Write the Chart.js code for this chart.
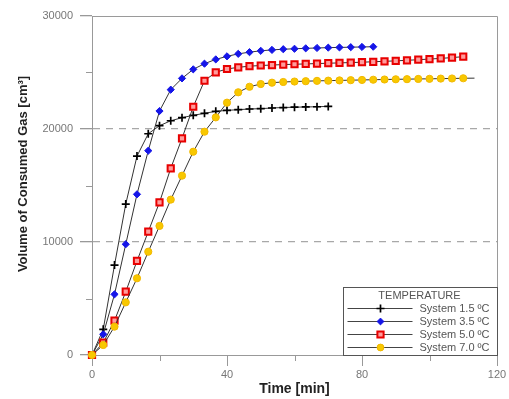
<!DOCTYPE html>
<html>
<head>
<meta charset="utf-8">
<script src="https://cdn.jsdelivr.net/npm/chart.js@4/dist/chart.umd.min.js"></script>
<style>
body { margin: 0; background: #fff; }
</style>
</head>
<body>
<canvas id="myChart_1" width="509" height="399"></canvas>
<script>
// time axis, min (one reading every 200 s)
const TIME_min = [0, 3.33, 6.67, 10, 13.33, 16.67, 20, 23.33, 26.67, 30, 33.33, 36.67, 40, 43.33, 46.67, 50,
    53.33, 56.67, 60, 63.33, 66.67, 70, 73.33, 76.67, 80, 83.33, 86.67, 90, 93.33, 96.67, 100, 103.33, 106.67, 110, 113.33];

// consumed gas, cm3
const SYS_15 = [0, 2270, 7960, 13360, 17600, 19580, 20290, 20730, 21000, 21210, 21390, 21560, 21650, 21710, 21770,
    21800, 21860, 21900, 21930, 21950, 21970, 22000];
const SYS_35 = [0, 1830, 5370, 9800, 14220, 18080, 21590, 23480, 24480, 25280, 25780, 26160, 26430, 26650, 26800,
    26920, 27000, 27060, 27100, 27140, 27170, 27200, 27220, 27240, 27260, 27280];
const SYS_50 = [0, 1090, 3040, 5600, 8320, 10910, 13510, 16520, 19170, 21970, 24270, 25020, 25310, 25460, 25560,
    25620, 25660, 25700, 25730, 25760, 25790, 25820, 25850, 25880, 25910, 25950, 25990, 26030, 26080, 26130,
    26190, 26250, 26320, 26400];
const SYS_70 = [0, 885, 2510, 4660, 6790, 9140, 11420, 13750, 15870, 17990, 19760, 21030, 22330, 23250, 23740,
    23980, 24100, 24160, 24200, 24230, 24260, 24280, 24300, 24320, 24340, 24360, 24380, 24400, 24410, 24430,
    24440, 24460, 24470, 24490, 24500];

const LABELS = ['System 1.5 ºC', 'System 3.5 ºC', 'System 5.0 ºC', 'System 7.0 ºC'];
const Y_TITLE = 'Volume of Consumed Gas [cm³]';

const X_MINOR = [20, 60, 100];
const Y_MINOR = [5000, 15000, 25000];
const Y_DASHED = [10000, 20000];

const FONT = "Arial, 'Liberation Sans', sans-serif";

function toXY(arr) {
    return arr.map((v, i) => ({x: TIME_min[i], y: v}));
}

// minor ticks, top/right frame, y title and the boxed legend
const extras = {
    id: 'extras',
    afterDraw(chart) {
        const c = chart.ctx;
        const a = chart.chartArea;
        const xs = chart.scales.x, ys = chart.scales.y;
        c.save();
        c.strokeStyle = '#999';
        c.lineWidth = 1;
        c.beginPath();
        X_MINOR.forEach(v => {
            const px = Math.round(xs.getPixelForValue(v)) + 0.5;
            c.moveTo(px, a.bottom); c.lineTo(px, a.bottom + 6);
        });
        Y_MINOR.forEach(v => {
            const py = Math.round(ys.getPixelForValue(v)) + 0.5;
            c.moveTo(a.left - 6, py); c.lineTo(a.left, py);
        });
        c.stroke();

        // frame
        c.strokeStyle = '#9a9a9a';
        c.beginPath();
        c.moveTo(a.left, a.top + 0.5); c.lineTo(a.right + 0.5, a.top + 0.5); c.lineTo(a.right + 0.5, a.bottom);
        c.stroke();

        // y title (sits a little above the axis middle in the original)
        c.save();
        c.translate(23, 174);
        c.rotate(-Math.PI / 2);
        c.fillStyle = '#222';
        c.font = 'bold 13px ' + FONT;
        c.textAlign = 'center';
        c.textBaseline = 'middle';
        c.fillText(Y_TITLE, 0, 0);
        c.restore();

        // legend box
        const w = 154, h = 68;
        const bx = Math.round(a.right - w) + 0.5, by = Math.round(a.bottom - h) + 0.5;
        c.fillStyle = '#fff';
        c.fillRect(bx, by, w, h);
        c.strokeStyle = '#555';
        c.strokeRect(bx, by, w, h);

        c.fillStyle = '#555';
        c.font = '11px ' + FONT;
        c.textAlign = 'center';
        c.textBaseline = 'middle';
        c.fillText('TEMPERATURE', bx + 76, by + 8);

        c.textAlign = 'left';
        chart.data.datasets.forEach((ds, i) => {
            const y = by + 21 + i * 13;
            c.strokeStyle = '#444';
            c.lineWidth = 1;
            c.beginPath();
            c.moveTo(bx + 4, y); c.lineTo(bx + 69, y);
            c.stroke();
            c.fillStyle = ds.pointBackgroundColor;
            c.strokeStyle = ds.pointBorderColor;
            c.lineWidth = ds.pointBorderWidth;
            Chart.helpers.drawPoint(c, {pointStyle: ds.pointStyle, radius: ds.legendRadius, borderWidth: ds.pointBorderWidth, rotation: 0}, bx + 37, y);
            c.fillStyle = '#555';
            c.fillText(ds.label, bx + 76, y);
        });
        c.restore();
    }
};

const ctx_1 = document.getElementById('myChart_1');

window.myChart_1 = new Chart(ctx_1, {
    type: 'line',
    data: {
    datasets: [{
        label: LABELS[0],
        data: toXY(SYS_15),
        borderColor: '#333',
        borderWidth: 1,
        pointStyle: 'cross',
        pointRadius: 4,
        legendRadius: 4,
        pointBorderColor: '#000',
        pointBackgroundColor: '#000',
        pointBorderWidth: 1.7,
        clip: false,
        order: 4
    }, {
        label: LABELS[1],
        data: toXY(SYS_35),
        borderColor: '#333',
        borderWidth: 1,
        pointStyle: 'rectRot',
        pointRadius: 3.6,
        legendRadius: 3.4,
        pointBorderColor: '#1515e8',
        pointBackgroundColor: '#1515e8',
        pointBorderWidth: 1,
        clip: false,
        order: 3
    }, {
        label: LABELS[2],
        data: toXY(SYS_50),
        borderColor: '#333',
        borderWidth: 1,
        pointStyle: 'rect',
        pointRadius: 4.4,
        legendRadius: 4.4,
        pointBorderColor: '#e80000',
        pointBackgroundColor: '#ff9c9c',
        pointBorderWidth: 2,
        clip: false,
        order: 2
    }, {
        label: LABELS[3],
        data: toXY(SYS_70),
        borderColor: '#333',
        borderWidth: 1,
        pointStyle: 'circle',
        pointRadius: (c) => c.dataIndex === SYS_70.length - 1 ? 0 : 3.6,
        legendRadius: 3.4,
        pointBorderColor: '#f2b800',
        pointBackgroundColor: '#f8c800',
        pointBorderWidth: 1,
        clip: false,
        order: 1
    }]
    },
    options: {
    responsive: false,
    animation: false,
    events: [],
    layout: { padding: { top: 16, right: 12, left: 0, bottom: 0 } },
    elements: { line: { tension: 0 } },
    plugins: {
        legend: { display: false },
        tooltip: { enabled: false }
    },
    scales: {
        x: {
        type: 'linear',
        min: 0,
        max: 120,
        afterFit: (s) => { s.height = 44; },
        ticks: { stepSize: 40, color: '#777', padding: 2, font: { size: 11, family: FONT } },
        border: { color: '#999', width: 1 },
        grid: { drawOnChartArea: false, tickLength: 11, tickColor: '#999' },
        title: { display: true, text: 'Time [min]', color: '#222', padding: { top: 0, bottom: 1 },
            font: { size: 14, weight: 'bold', family: FONT } }
        },
        y: {
        min: 0,
        max: 30000,
        afterFit: (s) => { s.width = 92; },
        ticks: { stepSize: 10000, color: '#777', padding: 7, font: { size: 11, family: FONT },
            callback: (v) => String(v) },
        border: { color: '#999', width: 1, dash: [7, 6] },
        grid: {
            tickLength: 12,
            tickColor: '#999',
            lineWidth: 1.3,
            color: (c) => (c.tick && Y_DASHED.includes(c.tick.value)) ? '#a8a8a8' : 'rgba(0,0,0,0)'
        },
        title: { display: false }
        }
    }
    },
    plugins: [extras]
});
</script>
</body>
</html>
